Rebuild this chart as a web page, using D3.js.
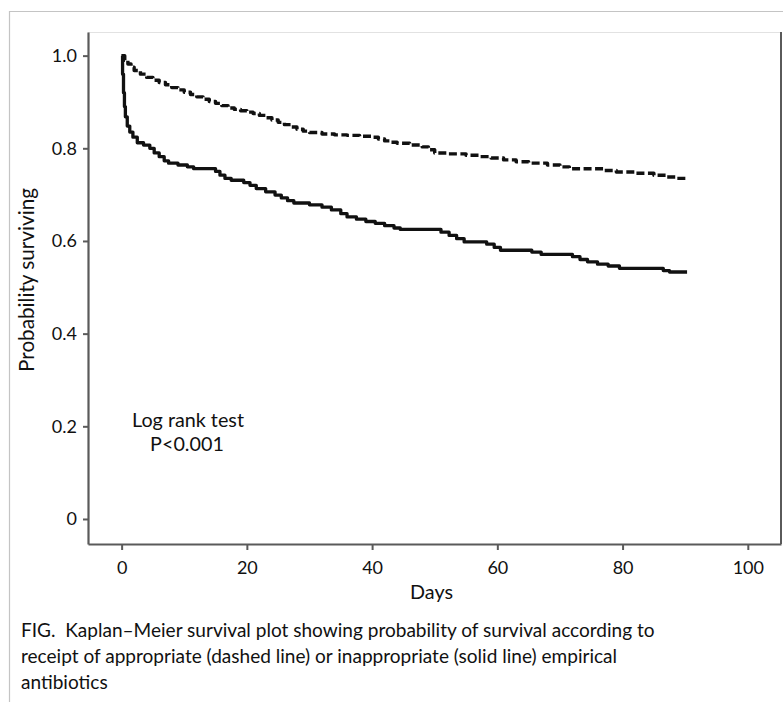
<!DOCTYPE html>
<html>
<head>
<meta charset="utf-8">
<script src="https://cdn.jsdelivr.net/npm/d3@7"></script>
<style>
  html, body { margin: 0; padding: 0; background: #fff; }
  svg { display: block; }
  text { font-family: "Lato", "Open Sans", sans-serif; fill: #111; }
</style>
</head>
<body>
<svg id="chart" width="783" height="702"></svg>
<script>
// ---- data ----
const appropriateDays = [0, 0.5, 1, 1.5, 2, 3, 4, 5, 6, 7, 8, 9, 10, 11, 12, 13, 14, 15, 16, 17, 18, 19, 20, 21, 22, 23, 24, 25, 26, 27, 28, 29, 30, 32, 34, 36, 38, 40, 41, 42, 43, 44, 46, 48, 49, 50, 52, 55, 57, 59, 61, 63, 65, 68, 70, 71.5, 77, 79, 82, 85, 87, 88.7, 90.5];
const appropriateSurv = [1.0, 0.99, 0.982, 0.975, 0.968, 0.96, 0.953, 0.947, 0.942, 0.937, 0.931, 0.926, 0.921, 0.916, 0.911, 0.906, 0.901, 0.897, 0.892, 0.887, 0.884, 0.881, 0.878, 0.875, 0.871, 0.866, 0.861, 0.856, 0.851, 0.846, 0.841, 0.837, 0.834, 0.831, 0.829, 0.828, 0.826, 0.824, 0.82, 0.816, 0.813, 0.811, 0.807, 0.803, 0.797, 0.79, 0.788, 0.785, 0.782, 0.779, 0.775, 0.771, 0.768, 0.764, 0.76, 0.756, 0.752, 0.749, 0.746, 0.742, 0.738, 0.735, 0.735];

const inappropriateDays = [0, 0.15, 0.3, 0.45, 0.6, 0.9, 1.3, 1.8, 2.5, 3.5, 4.5, 5.2, 6, 6.8, 7.5, 9, 10.5, 11.5, 15, 15.7, 16.5, 17.5, 19.5, 20.5, 21.5, 23, 24.5, 25.5, 26.5, 27.5, 30, 32, 33.5, 35, 36, 37.5, 39, 40.5, 42, 43.5, 44.5, 51, 52.3, 53.5, 54.7, 58.3, 59.5, 60.5, 65.5, 67, 72, 73.2, 74.4, 76, 77.7, 79.5, 86.5, 87.5, 90.3];
const inappropriateSurv = [1.0, 0.96, 0.92, 0.89, 0.868, 0.848, 0.835, 0.824, 0.812, 0.807, 0.8, 0.79, 0.782, 0.773, 0.768, 0.764, 0.76, 0.756, 0.75, 0.742, 0.735, 0.731, 0.726, 0.72, 0.713, 0.706, 0.699, 0.693, 0.687, 0.682, 0.678, 0.673, 0.667, 0.659, 0.652, 0.647, 0.642, 0.638, 0.633, 0.628, 0.625, 0.619, 0.612, 0.605, 0.598, 0.593, 0.586, 0.58, 0.576, 0.571, 0.566, 0.56, 0.555, 0.55, 0.546, 0.541, 0.536, 0.533, 0.533];

const xTicks = [0, 20, 40, 60, 80, 100];
const yTicks = [0, 0.2, 0.4, 0.6, 0.8, 1.0];
const yTickLabels = ["0", "0.2", "0.4", "0.6", "0.8", "1.0"];
const xTitle = "Days";
const yTitle = "Probability surviving";
const annotation = ["Log rank test", "P<0.001"];
const caption = [
  "FIG.  Kaplan\u2013Meier survival plot showing probability of survival according to",
  "receipt of appropriate (dashed line) or inappropriate (solid line) empirical",
  "antibiotics"
];

// ---- layout ----
const svg = d3.select("#chart");
const L = 88, R = 781, T = 32, B = 544;

const x = d3.scaleLinear().domain([-5.37, 105.3]).range([L, R]);
const y = d3.scaleLinear().domain([-0.054, 1.051]).range([B, T]);

// scale a text's font size so that its rendered width matches a target width
function fitWidth(sel, target, base) {
  sel.style("font-size", base + "px");
  const w = sel.node().getComputedTextLength();
  if (w > 0) sel.style("font-size", (base * target / w).toFixed(2) + "px");
  return parseFloat(sel.style("font-size"));
}

// outer border
svg.append("path")
  .attr("d", `M9.5,702 V11.5 H783`)
  .attr("fill", "none").attr("stroke", "#c4c4c4").attr("stroke-width", 1.2);

// plot frame top (light)
svg.append("line").attr("x1", L).attr("x2", R).attr("y1", T + 0.5).attr("y2", T + 0.5)
  .attr("stroke", "#e2e2e2").attr("stroke-width", 1);
// right frame
svg.append("line").attr("x1", R).attr("x2", R).attr("y1", T).attr("y2", B)
  .attr("stroke", "#5a5a5a").attr("stroke-width", 2);

// axes
const yAxis = d3.axisLeft(y).tickValues(yTicks)
  .tickFormat((d, i) => yTickLabels[i]).tickSize(5).tickSizeOuter(0).tickPadding(6);
const xAxis = d3.axisBottom(x).tickValues(xTicks)
  .tickFormat(d3.format("d")).tickSize(6).tickSizeOuter(0).tickPadding(11);

const gy = svg.append("g").attr("transform", `translate(${L},0)`).call(yAxis);
const gx = svg.append("g").attr("transform", `translate(0,${B})`).call(xAxis);
[gx, gy].forEach(g => {
  g.select(".domain").attr("stroke", "#5a5a5a").attr("stroke-width", 2.2);
  g.selectAll(".tick line").attr("stroke", "#5a5a5a").attr("stroke-width", 2);
  g.selectAll(".tick text").style("font-size", "18px").attr("fill", "#111")
    .style("font-family", "Lato, 'Open Sans', sans-serif");
});

// axis titles
const xt = svg.append("text").attr("x", 431.5).attr("y", 599)
  .attr("text-anchor", "middle").text(xTitle);
fitWidth(xt, 43, 18);
const yt = svg.append("text")
  .attr("transform", `translate(34,280) rotate(-90)`)
  .attr("text-anchor", "middle").text(yTitle);
fitWidth(yt, 184, 18);

// curves
const line = d3.line().x(d => x(d[0])).y(d => y(d[1])).curve(d3.curveStepAfter);
const appr = appropriateDays.map((d, i) => [d, appropriateSurv[i]]);
const inap = inappropriateDays.map((d, i) => [d, inappropriateSurv[i]]);

svg.append("path").datum(appr).attr("d", line)
  .attr("fill", "none").attr("stroke", "#111").attr("stroke-width", 3.4)
  .attr("stroke-dasharray", "8,3.5").attr("stroke-linejoin", "round");
svg.append("path").datum(inap).attr("d", line)
  .attr("fill", "none").attr("stroke", "#111").attr("stroke-width", 3.3)
  .attr("stroke-linejoin", "round");

// annotation
const a0 = svg.append("text").attr("x", 188).attr("y", 427)
  .attr("text-anchor", "middle").text(annotation[0]);
const aSize = fitWidth(a0, 112, 17);
svg.append("text").attr("x", 187).attr("y", 451)
  .attr("text-anchor", "middle").style("font-size", aSize + "px").text(annotation[1]);

// caption
const c0 = svg.append("text").attr("x", 21).attr("y", 637)
  .style("white-space", "pre").text(caption[0]);
const cSize = fitWidth(c0, 634, 18);
caption.slice(1).forEach((t, i) => {
  svg.append("text").attr("x", 21).attr("y", 663 + i * 26)
    .style("font-size", cSize + "px").text(t);
});
</script>
</body>
</html>
